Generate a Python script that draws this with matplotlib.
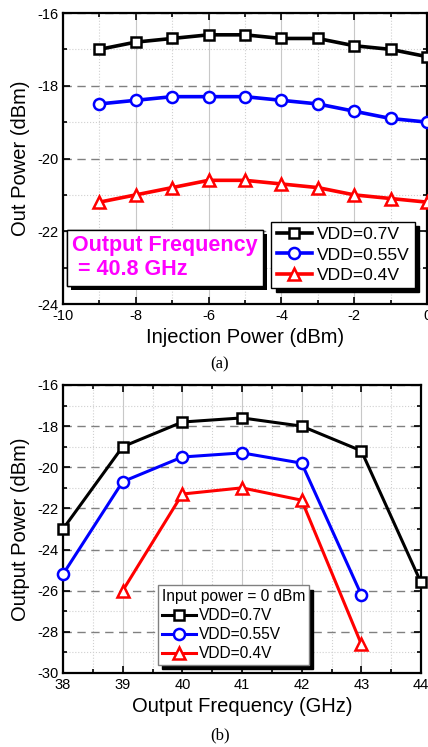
import matplotlib
matplotlib.use("Agg")
import matplotlib.pyplot as plt
from matplotlib.ticker import MultipleLocator
import matplotlib.patheffects as pe

plt.rcParams['font.family'] = ['Liberation Sans', 'DejaVu Sans']
plt.rcParams['axes.unicode_minus'] = False

# ---- data (a) ----
inj_power = [-9, -8, -7, -6, -5, -4, -3, -2, -1, 0]
a_vdd07 = [-17.0, -16.8, -16.7, -16.6, -16.6, -16.7, -16.7, -16.9, -17.0, -17.2]
a_vdd055 = [-18.5, -18.4, -18.3, -18.3, -18.3, -18.4, -18.5, -18.7, -18.9, -19.0]
a_vdd04 = [-21.2, -21.0, -20.8, -20.6, -20.6, -20.7, -20.8, -21.0, -21.1, -21.2]

# ---- data (b) ----
freq_07 = [38, 39, 40, 41, 42, 43, 44]
b_vdd07 = [-23.0, -19.0, -17.8, -17.6, -18.0, -19.2, -25.6]
freq_055 = [38, 39, 40, 41, 42, 43]
b_vdd055 = [-25.2, -20.7, -19.5, -19.3, -19.8, -26.2]
freq_04 = [39, 40, 41, 42, 43]
b_vdd04 = [-26.0, -21.3, -21.0, -21.6, -28.6]

labels = ['VDD=0.7V', 'VDD=0.55V', 'VDD=0.4V']
colors = ['black', 'blue', 'red']
markers = ['s', 'o', '^']

fig = plt.figure(figsize=(4.28, 7.47), dpi=100)
W, H = 428, 747

def add_ax(l, t, r, b):
    return fig.add_axes([l / W, 1 - b / H, (r - l) / W, (b - t) / H])

def style(ax, xmaj, xmin, ymaj, ymin):
    ax.xaxis.set_major_locator(MultipleLocator(xmaj))
    ax.xaxis.set_minor_locator(MultipleLocator(xmin))
    ax.yaxis.set_major_locator(MultipleLocator(ymaj))
    ax.yaxis.set_minor_locator(MultipleLocator(ymin))
    ax.tick_params(which='both', direction='in', top=True, right=True, labelsize=10.5, width=1.2)
    ax.tick_params(which='major', length=5)
    ax.tick_params(which='minor', length=3)
    ax.grid(True, axis='x', which='major', color='#c8c8c8', lw=0.8, ls='-')
    ax.grid(True, axis='x', which='minor', color='#d0d0d0', lw=0.8, ls=':')
    ax.grid(True, axis='y', which='major', color='#808080', lw=1.0, ls=(0, (6, 4)))
    ax.grid(True, axis='y', which='minor', color='#d0d0d0', lw=0.8, ls=':')
    ax.set_axisbelow(True)
    for s in ax.spines.values():
        s.set_linewidth(1.6)

# ---------- (a) ----------
ax1 = add_ax(63, 13, 427, 304)
for y, lab, c, m in zip([a_vdd07, a_vdd055, a_vdd04], labels, colors, markers):
    ax1.plot(inj_power, y, color=c, marker=m, ms=8 if m != 's' else 7, mfc='white',
             mec=c, mew=1.8, lw=2.6, label=lab, clip_on=False, zorder=3)
ax1.set_xlim(-10, 0)
ax1.set_ylim(-24, -16)
style(ax1, 2, 1, 2, 1)
ax1.set_xlabel('Injection Power (dBm)', fontsize=14.5, labelpad=4)
ax1.set_ylabel('Out Power (dBm)', fontsize=14.5, labelpad=5)
leg1 = ax1.legend(loc='lower right', bbox_to_anchor=(0.967, 0.055), fontsize=12.6,
                  handlelength=2.0, handletextpad=0.3, labelspacing=0.28,
                  borderpad=0.3, borderaxespad=0, fancybox=False, framealpha=1,
                  edgecolor='black',
                  shadow={'color': 'black', 'alpha': 1, 'ox': 3, 'oy': -3})
leg1.get_frame().set_linewidth(1.0)
t = ax1.text(0.025, 0.082, 'Output Frequency\n = 40.8 GHz', transform=ax1.transAxes,
             fontsize=15.5, fontweight='bold', color='#ff00ff', ha='left', va='bottom',
             linespacing=1.2,
             bbox=dict(boxstyle='square,pad=0.25', fc='white', ec='black', lw=1.0))
t.get_bbox_patch().set_path_effects([pe.withSimplePatchShadow(offset=(3, -3), shadow_rgbFace='black', alpha=1), pe.Normal()])
fig.text(220 / W, 1 - 364 / H, '(a)', family='Liberation Serif', fontsize=12, ha='center', va='center')

# ---------- (b) ----------
ax2 = add_ax(63, 385, 421, 673)
for x, y, lab, c, m in zip([freq_07, freq_055, freq_04], [b_vdd07, b_vdd055, b_vdd04], labels, colors, markers):
    ax2.plot(x, y, color=c, marker=m, ms=8 if m != 's' else 7, mfc='white',
             mec=c, mew=1.8, lw=2.2, label=lab, clip_on=False, zorder=3)
ax2.set_xlim(38, 44)
ax2.set_ylim(-30, -16)
style(ax2, 1, 0.5, 2, 1)
ax2.set_xlabel('Output Frequency (GHz)', fontsize=14.5, labelpad=4)
ax2.set_ylabel('Output Power (dBm)', fontsize=14.5, labelpad=5)
leg2 = ax2.legend(loc='lower left', bbox_to_anchor=(0.265, 0.028), fontsize=11.2,
                  title='Input power = 0 dBm', title_fontsize=11.2,
                  handlelength=2.2, handletextpad=0.2, labelspacing=0.25,
                  borderpad=0.25, borderaxespad=0, fancybox=False, framealpha=1,
                  edgecolor='#808080',
                  shadow={'color': 'black', 'alpha': 1, 'ox': 3, 'oy': -3})
leg2._legend_box.align = 'left'
leg2.get_frame().set_linewidth(1.0)
fig.text(220 / W, 1 - 735 / H, '(b)', family='Liberation Serif', fontsize=12, ha='center', va='center')

fig.savefig('out.png', dpi=100)
